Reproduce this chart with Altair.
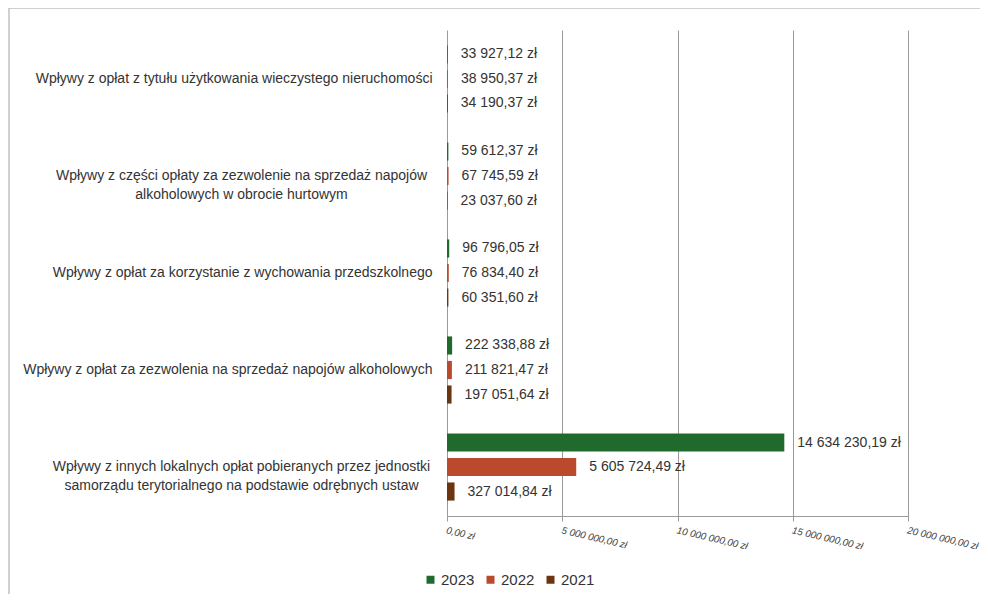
import altair as alt
import pandas as pd

categories = [
    "Wpływy z opłat z tytułu użytkowania wieczystego nieruchomości",
    "Wpływy z części opłaty za zezwolenie na sprzedaż napojów|alkoholowych w obrocie hurtowym",
    "Wpływy z opłat za korzystanie z wychowania przedszkolnego",
    "Wpływy z opłat za zezwolenia na sprzedaż napojów alkoholowych",
    "Wpływy z innych lokalnych opłat pobieranych przez jednostki|samorządu terytorialnego na podstawie odrębnych ustaw",
]
years = ["2023", "2022", "2021"]
v2023 = [33927.12, 59612.37, 96796.05, 222338.88, 14634230.19]
v2022 = [38950.37, 67745.59, 76834.40, 211821.47, 5605724.49]
v2021 = [34190.37, 23037.60, 60351.60, 197051.64, 327014.84]
tick_values = [0, 5000000, 10000000, 15000000, 20000000]
colors = ["#216a2e", "#b94a2d", "#6a3510"]

rows = []
for yr, vals in zip(years, [v2023, v2022, v2021]):
    for c, v in zip(categories, vals):
        rows.append({"category": c, "year": yr, "value": v})
df = pd.DataFrame(rows)

font = "Liberation Sans"
multi = "indexof(datum.value, '|') >= 0"

y_enc = alt.Y(
    "category:N", sort=categories, title=None,
    scale=alt.Scale(paddingInner=0.242, paddingOuter=0.126),
    axis=alt.Axis(
        domain=False, ticks=False,
        labelExpr="split(datum.label, '|')",
        labelAlign={"condition": {"test": multi, "value": "center"}, "value": "right"},
        labelPadding={"condition": {"test": multi, "value": 206}, "value": 15},
        labelFont=font, labelFontSize=14, labelColor="#333333",
        labelLineHeight=19, labelLimit=600,
    ),
)
yoff = alt.YOffset("year:N", sort=years, scale=alt.Scale(paddingInner=0.26, paddingOuter=0.13))

x_enc = alt.X(
    "value:Q", title=None,
    scale=alt.Scale(domain=[0, 20000000], nice=False),
    axis=alt.Axis(
        values=tick_values,
        labelExpr="format(datum.value, ',.2f') + ' zł'",
        labelAngle=13, labelAlign="left", labelBaseline="top",
        labelFontStyle="italic", labelFontSize=9.8, labelColor="#444444",
        labelFont=font, labelPadding=4, labelFlush=False, labelOverlap=False,
        tickSize=5, tickColor="#9a9a9a", domainColor="#9a9a9a",
        grid=True, gridColor="#9a9a9a",
    ),
)

base = alt.Chart(df).encode(y=y_enc, yOffset=yoff)

bars = base.mark_bar().encode(
    x=x_enc,
    color=alt.Color(
        "year:N", sort=years,
        scale=alt.Scale(domain=years, range=colors),
        legend=alt.Legend(
            title=None, orient="none", legendX=-24, legendY=542,
            direction="horizontal", symbolType="square", symbolSize=64,
            labelFontSize=15, labelFont=font, labelColor="#333333",
            columnPadding=8, labelOffset=3, symbolStrokeWidth=0,
        ),
    ),
)

labels = base.transform_calculate(
    label="format(datum.value, ',.2f') + ' zł'"
).mark_text(align="left", baseline="middle", dx=13, fontSize=14, color="#333333", font=font).encode(
    x=alt.X("value:Q"),
    text="label:N",
)

frame_df = pd.DataFrame({"k": [0]})
frame_left = alt.Chart(frame_df).mark_rule(color="#c0c0c0", strokeWidth=1.5).encode(
    x=alt.value(-438), y=alt.value(-22), y2=alt.value(590)
)
frame_top = alt.Chart(frame_df).mark_rule(color="#c0c0c0", strokeWidth=1.5).encode(
    x=alt.value(-438), x2=alt.value(540), y=alt.value(-22)
)

chart = alt.layer(bars, labels, frame_left, frame_top).properties(
    width=461, height=486,
    autosize=alt.AutoSizeParams(type="none"),
    padding={"left": 439, "top": 22, "right": 72, "bottom": 78},
).configure_view(stroke=None)

chart.save(
    "out.html",
    embed_options={
        "renderer": "svg",
        "actions": False,
        "formatLocale": {"decimal": ",", "thousands": " ", "grouping": [3], "currency": ["", " zł"]},
    },
)
